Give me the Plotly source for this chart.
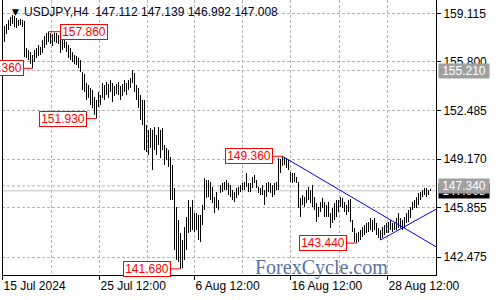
import plotly.graph_objects as go

# ---------------- data (USDJPY H4 bars) ----------------
high = [158.11, 158.25, 158.39, 158.66, 158.86, 159.00, 158.93, 158.79, 158.66, 158.73,
        158.66, 158.59, 156.75, 156.61, 156.47, 156.27, 156.61, 156.75, 156.95, 156.82,
        157.29, 157.57, 157.77, 157.86, 157.77, 157.70, 157.80, 157.77, 157.63, 157.57,
        157.29, 157.29, 157.16, 156.95, 156.75, 156.47, 156.27, 156.20, 156.07, 155.93,
        155.11, 154.97, 154.36, 154.22, 154.02, 153.88, 153.40, 153.20, 153.75, 153.54,
        154.36, 154.22, 154.43, 154.29, 154.56, 154.36, 154.16, 154.29, 154.43, 154.16,
        154.29, 154.56, 154.36, 154.56, 154.70, 155.25, 155.04, 154.22, 154.02, 153.54,
        153.20, 153.20, 151.50, 151.16, 151.29, 151.16, 151.36, 150.81, 151.36, 151.16,
        151.29, 150.13, 149.93, 149.79, 149.31, 148.77, 147.20, 145.90, 145.02, 144.13,
        143.65, 144.54, 145.22, 146.38, 145.90, 146.38, 145.49, 145.49, 145.36, 145.36,
        146.04, 147.88, 147.74, 147.74, 147.61, 147.27, 146.58, 146.92, 146.38, 147.40,
        147.54, 147.61, 147.74, 147.54, 147.40, 147.06, 146.92, 147.20, 147.27, 147.40,
        147.54, 147.61, 148.22, 147.54, 147.54, 147.95, 148.09, 147.74, 147.27, 147.20,
        147.40, 147.06, 147.54, 147.61, 147.54, 147.40, 147.54, 147.61, 149.24, 149.18,
        149.36, 149.31, 149.24, 149.11, 148.29, 148.22, 148.22, 147.95, 147.61, 146.52,
        146.72, 146.58, 147.06, 147.27, 147.06, 147.40, 146.58, 146.17, 145.90, 146.24,
        146.52, 146.24, 146.04, 146.24, 145.49, 145.83, 146.17, 146.38, 146.38, 146.58,
        146.52, 146.24, 146.04, 146.38, 146.45, 145.02, 144.47, 144.13, 144.20, 144.33,
        144.54, 144.67, 144.81, 144.88, 145.15, 145.02, 145.15, 144.81, 144.47, 144.33,
        144.54, 144.67, 144.81, 144.88, 145.02, 144.81, 144.88, 145.15, 145.49, 145.15,
        145.02, 145.22, 145.49, 145.70, 145.90, 146.24, 146.38, 146.58, 146.86, 146.92,
        147.06, 147.20, 147.20, 147.06, 147.139]
low = [157.70, 157.16, 157.70, 157.98, 158.25, 158.39, 158.18, 158.11, 158.25, 158.32,
       158.18, 156.13, 156.07, 155.93, 155.66, 155.36, 155.79, 156.07, 156.20, 156.27,
       156.41, 156.75, 156.95, 157.16, 157.02, 156.88, 157.16, 157.09, 157.02, 156.41,
       156.61, 156.75, 156.47, 156.07, 155.93, 155.79, 155.66, 155.59, 155.38, 155.11,
       153.88, 153.75, 153.20, 153.34, 152.86, 152.65, 152.18, 151.93, 152.72, 152.86,
       153.34, 153.20, 153.54, 153.34, 153.75, 153.06, 153.47, 153.61, 153.54, 153.20,
       153.47, 153.75, 153.54, 153.88, 154.02, 154.36, 153.75, 153.20, 152.65, 151.84,
       151.50, 149.79, 149.65, 149.45, 149.93, 148.43, 149.79, 149.45, 150.13, 149.24,
       149.79, 148.77, 149.11, 148.63, 146.38, 146.38, 142.97, 142.29, 142.15, 141.68,
       141.74, 142.29, 142.97, 144.13, 144.20, 144.33, 144.20, 144.33, 143.65, 143.51,
       144.67, 145.70, 146.52, 146.58, 146.38, 146.17, 145.49, 145.83, 145.70, 146.86,
       146.92, 147.06, 147.06, 146.72, 146.58, 146.38, 146.24, 146.52, 146.72, 146.92,
       147.06, 147.06, 147.27, 146.92, 146.92, 147.20, 147.54, 147.20, 146.86, 146.72,
       146.72, 146.04, 146.58, 146.92, 146.86, 146.58, 146.72, 147.06, 147.06, 148.22,
       148.70, 148.77, 148.56, 148.43, 147.61, 147.54, 147.61, 147.54, 145.83, 145.22,
       146.04, 145.90, 146.17, 146.38, 146.17, 145.90, 145.70, 144.88, 145.22, 145.56,
       145.83, 145.22, 145.22, 145.22, 144.47, 144.81, 145.02, 145.22, 145.56, 145.90,
       145.83, 145.56, 145.36, 145.56, 144.88, 144.20, 143.51, 143.44, 143.51, 143.65,
       143.86, 143.99, 144.13, 144.20, 144.33, 144.20, 144.33, 143.99, 143.79, 143.65,
       143.79, 143.99, 144.13, 144.13, 144.33, 144.20, 144.33, 144.33, 144.47, 144.47,
       144.33, 144.47, 144.81, 144.88, 145.15, 145.70, 145.83, 145.83, 146.04, 146.38,
       146.58, 146.72, 146.58, 146.72, 146.992]

last_ohlc = [147.112, 147.139, 146.992, 147.008]   # O H L C of the last bar
symbol = "USDJPY,H4"

price_ticks = [142.475, 145.855, 149.170, 152.485, 155.800, 159.115]
date_tick_bars = [0, 48.5, 96, 144, 192.5]
date_tick_text = ["15 Jul 2024", "25 Jul 12:00", "6 Aug 12:00", "16 Aug 12:00", "28 Aug 12:00"]
minor_grid_bars = [24.5, 72.5, 120, 168.5]

level_lines = [155.210, 147.340]

# trend lines (bar index, price)
trend_down_x = [140, 217]
trend_down_y = [149.36, 143.17]
trend_up_x = [189, 217]
trend_up_y = [143.65, 145.77]

# labelled extremes: (bar index, 'high' or 'low')
extremes = [(23, "high"), (15, "low"), (47, "low"), (140, "high"), (177, "low"), (89, "low")]

# ---------------- figure ----------------
FONT = "Liberation Sans, Arial, sans-serif"
GRID = "#b4b4b4"
DASH = "3px,2px"

bx, by = [], []
for i, (h, l) in enumerate(zip(high, low)):
    bx += [i, i, None]
    by += [l, h, None]

fig = go.Figure()
fig.add_trace(go.Scatter(x=bx, y=by, mode="lines", line=dict(color="black", width=1),
                         hoverinfo="skip", showlegend=False))
fig.add_trace(go.Scatter(x=trend_down_x, y=trend_down_y, mode="lines",
                         line=dict(color="#0000ff", width=1), showlegend=False, hoverinfo="skip"))
fig.add_trace(go.Scatter(x=trend_up_x, y=trend_up_y, mode="lines",
                         line=dict(color="#0000ff", width=1), showlegend=False, hoverinfo="skip"))

shapes = []
for lv in level_lines:
    shapes.append(dict(type="line", xref="paper", x0=0, x1=1, yref="y", y0=lv, y1=lv,
                       line=dict(color=GRID, width=1, dash=DASH), layer="below"))
shapes.append(dict(type="line", xref="paper", x0=0, x1=1, yref="y", y0=last_ohlc[3], y1=last_ohlc[3],
                   line=dict(color="#c0c0c0", width=1), layer="below"))
shapes.append(dict(type="line", xref="paper", x0=0.5 / 434, x1=0.5 / 434, yref="paper", y0=0, y1=1,
                   line=dict(color="black", width=1)))

annotations = []
# title
annotations.append(dict(xref="paper", yref="paper", x=8 / 434, y=1 - 12 / 275, xanchor="left", yanchor="middle",
                        text="\u25BC", showarrow=False, font=dict(family="DejaVu Sans", size=9, color="black")))
annotations.append(dict(xref="paper", yref="paper", x=20 / 434, y=1 - 12.5 / 275, xanchor="left", yanchor="middle",
                        text=symbol + "\u00a0\u00a0" + "\u00a0".join(f"{v:.3f}" for v in last_ohlc),
                        showarrow=False, font=dict(family=FONT, size=12, color="#000020")))
# extreme labels
for idx, kind in extremes:
    v = high[idx] if kind == "high" else low[idx]
    off = 35 if idx == 23 else -34
    annotations.append(dict(x=idx, y=v, xref="x", yref="y", text=f"{v:.3f}", showarrow=True,
                            arrowhead=0, arrowwidth=1, arrowcolor="#ff0000", ax=off, ay=0,
                            standoff=0, startstandoff=0,
                            font=dict(family=FONT, size=12, color="#ff0000"),
                            bgcolor="white", bordercolor="#ff0000", borderwidth=1, borderpad=0, width=46))
# bid box (black) then level label boxes (gray)
annotations.append(dict(xref="paper", yref="y", x=1, y=last_ohlc[3], xanchor="left", xshift=2,
                        text=f"{last_ohlc[3]:.3f}", showarrow=False, bgcolor="black",
                        font=dict(family=FONT, size=12, color="white"), borderpad=0, width=50))
for lv in level_lines:
    annotations.append(dict(xref="paper", yref="y", x=1, y=lv, xanchor="left", xshift=2,
                            text=f"{lv:.3f}", showarrow=False, bgcolor="#a0a0a0",
                            font=dict(family=FONT, size=12, color="white"), borderpad=0, width=50))
# watermark
annotations.append(dict(xref="paper", yref="paper", x=(253 - 2) / 434, y=(275 - 267) / 275,
                        xanchor="left", yanchor="middle", text="ForexCycle.com", showarrow=False,
                        font=dict(family="Liberation Serif, Times New Roman, serif", size=20, color="#5473a6")))

fig.update_layout(
    width=500, height=300,
    margin=dict(l=2, r=64, t=0, b=25, pad=0),
    paper_bgcolor="white", plot_bgcolor="white",
    showlegend=False,
    shapes=shapes, annotations=annotations,
    xaxis=dict(range=[-0.25, 216.75], tickmode="array", tickvals=date_tick_bars, ticktext=date_tick_text,
               ticklabelposition="outside right", ticks="outside", ticklen=4, tickcolor="black",
               tickfont=dict(family=FONT, size=12, color="black"),
               showline=True, linecolor="black", linewidth=1,
               showgrid=True, gridcolor=GRID, griddash=DASH, gridwidth=1, zeroline=False,
               minor=dict(tickmode="array", tickvals=minor_grid_bars, showgrid=True, gridcolor=GRID,
                          griddash=DASH, ticks="")),
    yaxis=dict(range=[141.264, 160.022], side="right", tickmode="array", tickvals=price_ticks,
               ticktext=[f"{v:.3f}" for v in price_ticks], ticks="outside", ticklen=4, tickcolor="black",
               tickfont=dict(family=FONT, size=12, color="black"),
               showline=True, linecolor="black", linewidth=1,
               showgrid=True, gridcolor=GRID, griddash=DASH, zeroline=False),
)

fig.write_html("out.html")
